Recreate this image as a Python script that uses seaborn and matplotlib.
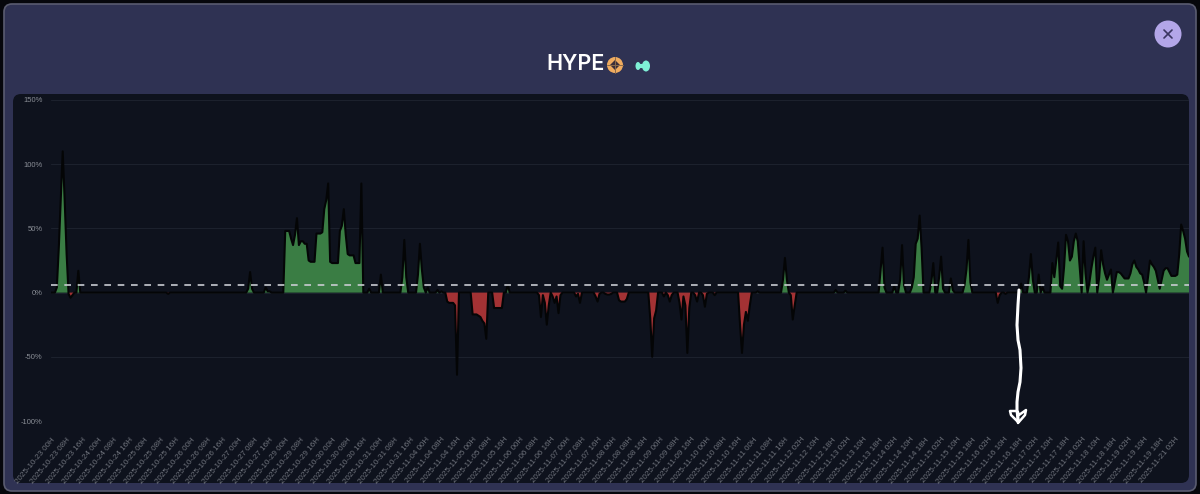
import pandas as pd
import numpy as np
import seaborn as sns
import matplotlib.pyplot as plt
from matplotlib.patches import FancyBboxPatch, Circle, Ellipse, RegularPolygon

title = "HYPE"
y_ticks = [-100, -50, 0, 50, 100, 150]
mean_pct = 5.7

# one row per x label, 8 hourly readings each
pct = [
    0, 0, 0, 4, 35, 72, 110, 72,
    30, -1, -4, -2, 0, 0, 17, 0,
    0, 0, 0, 0, 0, 0, 0, 0,
    0, 0, 0, 0, 0, 0, 0, 0,
    0, 0, 0, 0, 0, 0, 0, 0,
    0, 0, 0, 0, 0, 0, 0, 0,
    0, 0, 0, 0, 0, 0, 0, 0,
    0, 0, 0, 0, -1, 0, 0, 0,
    0, 0, 0, 0, 0, 0, 0, 0,
    0, 0, 0, 0, 0, 0, 0, 0,
    0, 0, 0, 0, 0, 0, 0, 0,
    0, 0, 0, 0, 0, 0, 0, 0,
    0, 0, 0, 0, 0, 3, 16, 3,
    0, 0, 0, 0, 0, 0, 4, 1,
    1, 0, 0, 0, 0, 0, 0, 0,
    48, 48, 48, 42, 37, 45, 58, 37,
    40, 40, 38, 38, 25, 24, 24, 24,
    46, 46, 46, 47, 65, 72, 85, 24,
    23, 23, 23, 23, 48, 52, 65, 45,
    30, 29, 29, 29, 23, 23, 23, 85,
    0, 0, 0, 3, 0, 0, 0, 0,
    0, 14, 0, 0, 0, 0, 0, 0,
    0, 0, 0, 0, 12, 41, 12, 0,
    0, 0, 0, 0, 14, 38, 18, 4,
    0, 4, 0, 0, 0, 0, 2, 0,
    1, 0, 0, -7, -8, -8, -8, -10,
    -64, 0, 0, 0, 0, 0, 0, 0,
    -17, -17, -17, -18, -19, -22, -24, -36,
    0, 0, 0, -12, -12, -12, -12, -12,
    0, 0, 6, 0, 0, 0, 0, 0,
    0, 0, 0, 0, 0, 0, 0, 0,
    0, 0, -2, -19, -2, -8, -25, -10,
    0, -3, -8, -3, -16, -2, 0, 0,
    0, 0, 0, 0, 0, -3, -1, -8,
    0, 0, 0, 0, 0, 0, 0, -3,
    -7, -1, 0, 0, -1, -1.5, -1.5, -1,
    0, 0, 0, -6, -7, -7, -7, -5,
    0, 0, 0, 0, 0, 0, 0, 0,
    0, 0, 0, -20, -50, -20, -14, 0,
    0, 0, -3, 0, -2, -7, -2, 0,
    0, 0, -8, -21, -3, -10, -47, -12,
    0, 0, -2, -7, 0, 0, -2, -11,
    -1, 0, 0, 0, -2, 0, 0, 0,
    0, 0, 0, 0, 0, 0, 0, 0,
    0, -25, -47, -25, -15, -22, -10, 0,
    0, 0, 1, 0, 0, 0, 0, 0,
    0, 0, 0, 0, 0, 0, 0, 10,
    27, 10, 0, -2, -21, -10, 0, 0,
    0, 0, 0, 0, 0, 0, 0, 0,
    0, 0, 0, 0, 0, 0, 0, 0,
    0, 0, 2, 0, 0, 0, 0, 1.5,
    0, 0, 0, 0, 0, 0, 0, 0,
    0, 0, 0, 0, 0, 0, 0, 0,
    0, 18, 35, 4, 0, 0, 0, 0,
    5, 0, 0, 10, 37, 6, 0, 0,
    0, 4, 12, 38, 42, 60, 35, 0,
    0, 0, 0, 8, 23, 0, 0, 12,
    28, 3, 0, 0, 0, 11, 2, 0,
    0, 0, 0, 0, 6, 18, 41, 8,
    0, 0, 0, 0, 0, 0, 0, 0,
    0, 0, 0, 0, 0, -8, -2, 0,
    0, -1, 0, 0, 0, 0, 0, 0,
    0, 7, 0, 0, 0, 12, 30, 10,
    0, 0, 14, 0, 4, 0, 0, 0,
    0, 23, 12, 25, 39, 5, 3, 20,
    45, 40, 25, 28, 40, 46, 40, 20,
    0, 40, 15, 0, 8, 19, 28, 35,
    0, 12, 33, 22, 15, 10, 14, 18,
    0, 8, 16, 16, 15, 13, 11, 11,
    11, 15, 22, 25, 20, 18, 15, 14,
    8, 0, 12, 25, 22, 20, 17, 10,
    3, 10, 17, 19, 19, 16, 13, 13,
    13, 14, 30, 53, 48, 42, 32, 28,
]

x_labels = [
    "2025-10-23 00H", "2025-10-23 08H", "2025-10-23 16H",
    "2025-10-24 00H", "2025-10-24 08H", "2025-10-24 16H",
    "2025-10-25 00H", "2025-10-25 08H", "2025-10-25 16H",
    "2025-10-26 00H", "2025-10-26 08H", "2025-10-26 16H",
    "2025-10-27 00H", "2025-10-27 08H", "2025-10-27 16H",
    "2025-10-29 00H", "2025-10-29 08H", "2025-10-29 16H",
    "2025-10-30 00H", "2025-10-30 08H", "2025-10-30 16H",
    "2025-10-31 00H", "2025-10-31 08H", "2025-10-31 16H",
    "2025-11-04 00H", "2025-11-04 08H", "2025-11-04 16H",
    "2025-11-05 00H", "2025-11-05 08H", "2025-11-05 16H",
    "2025-11-06 00H", "2025-11-06 08H", "2025-11-06 16H",
    "2025-11-07 00H", "2025-11-07 08H", "2025-11-07 16H",
    "2025-11-08 00H", "2025-11-08 08H", "2025-11-08 16H",
    "2025-11-09 00H", "2025-11-09 08H", "2025-11-09 16H",
    "2025-11-10 00H", "2025-11-10 08H", "2025-11-10 16H",
    "2025-11-11 00H", "2025-11-11 08H", "2025-11-11 16H",
    "2025-11-12 02H", "2025-11-12 10H", "2025-11-12 18H",
    "2025-11-13 02H", "2025-11-13 10H", "2025-11-13 18H",
    "2025-11-14 02H", "2025-11-14 10H", "2025-11-14 18H",
    "2025-11-15 02H", "2025-11-15 10H", "2025-11-15 18H",
    "2025-11-16 02H", "2025-11-16 10H", "2025-11-16 18H",
    "2025-11-17 02H", "2025-11-17 10H", "2025-11-17 18H",
    "2025-11-18 02H", "2025-11-18 10H", "2025-11-18 18H",
    "2025-11-19 02H", "2025-11-19 10H", "2025-11-19 18H",
    "2025-11-21 02H",
]

W, H = 1200, 494


def overlay(fig, z):
    # axes in screenshot pixels, for the window around the chart
    a = fig.add_axes([0, 0, 1, 1], zorder=z)
    a.set_xlim(0, W)
    a.set_ylim(H, 0)
    a.axis("off")
    return a


sns.set_style("dark")
plt.rcParams["font.family"] = ["Liberation Sans", "DejaVu Sans"]

df = pd.DataFrame({"hour": np.arange(len(pct)), "pct": pct})

fig = plt.figure(figsize=(W / 100, H / 100), dpi=100, facecolor="#06070c")

bg = overlay(fig, 0)
bg.add_patch(FancyBboxPatch((4, 4), 1192, 487, boxstyle="round,pad=0,rounding_size=8",
                            fc="#2f3253", ec="#5a5c70", lw=1.2))
bg.add_patch(FancyBboxPatch((13, 94), 1176, 389, boxstyle="round,pad=0,rounding_size=8",
                            fc="#0e121d", ec="none"))
bg.text(546, 64, title, color="white", fontsize=15.5, fontweight="semibold",
        family="Inter", ha="left", va="center")
bg.add_patch(Circle((615, 65), 8, fc="#efab5f", ec="none"))
bg.add_patch(RegularPolygon((615, 65), 4, radius=5, fc="#3b2f3a", ec="none"))
bg.plot([607, 623], [65, 65], color="#8a6a4a", lw=0.7)
bg.plot([615, 615], [57, 73], color="#8a6a4a", lw=0.7)
bg.add_patch(Ellipse((638, 66), 5, 8, fc="#7ff0d6", ec="none"))
bg.add_patch(Ellipse((646, 66), 8, 11, fc="#7ff0d6", ec="none"))
bg.plot([638, 646], [66, 66], color="#7ff0d6", lw=3)
bg.add_patch(Circle((1168, 34), 13.5, fc="#b3a6e8", ec="none"))
bg.plot([1164, 1172], [30, 38], color="#3a3560", lw=1.2)
bg.plot([1164, 1172], [38, 30], color="#3a3560", lw=1.2)

ax = fig.add_axes([51 / W, 1 - 421 / H, 1138 / W, 321 / H], zorder=1)
ax.patch.set_alpha(0)

ax.fill_between(df.hour, df.pct, 0, where=df.pct >= 0, interpolate=True, color="#3a7d44", lw=0)
ax.fill_between(df.hour, df.pct, 0, where=df.pct <= 0, interpolate=True, color="#a33234", lw=0)
sns.lineplot(data=df, x="hour", y="pct", color="#040506", lw=1.5, ax=ax)
ax.axhline(mean_pct, color="#c9ccd2", lw=1.2, dashes=(4, 4))

ax.set_xlim(0, len(pct) - 1)
ax.set_ylim(-100, 150)
ax.set_xticks(np.arange(len(x_labels)) * 8)
ax.set_xticklabels(x_labels, rotation=50, ha="right", rotation_mode="anchor",
                   fontsize=5.8, color="#6f737c")
ax.set_yticks(y_ticks)
ax.set_yticklabels([f"{v}%" for v in y_ticks], fontsize=5.5, color="#8a8e96")
ax.tick_params(axis="x", length=0, pad=11)
ax.tick_params(axis="y", length=4, width=0.7, color="#1c212d", pad=2)
ax.set_xlabel("")
ax.set_ylabel("")
ax.grid(axis="y", color="#1c212d", lw=0.8)
ax.grid(axis="x", visible=False)
ax.set_axisbelow(True)
sns.despine(ax=ax, left=True, bottom=True)

# hand drawn arrow on top of the screenshot
top = overlay(fig, 2)
arrow_x = [1019, 1018, 1017, 1018, 1020, 1021, 1020, 1018, 1017, 1017, 1018]
arrow_y = [290, 305, 325, 340, 350, 368, 382, 392, 402, 410, 420]
top.plot(arrow_x, arrow_y, color="white", lw=2.2, solid_capstyle="round")
top.plot([1018, 1011, 1010, 1017, 1019, 1026, 1025, 1018, 1018],
         [422, 415, 411, 411, 415, 410, 415, 423, 412], color="white", lw=1.8)

plt.savefig("out.png", dpi=100, facecolor=fig.get_facecolor())
